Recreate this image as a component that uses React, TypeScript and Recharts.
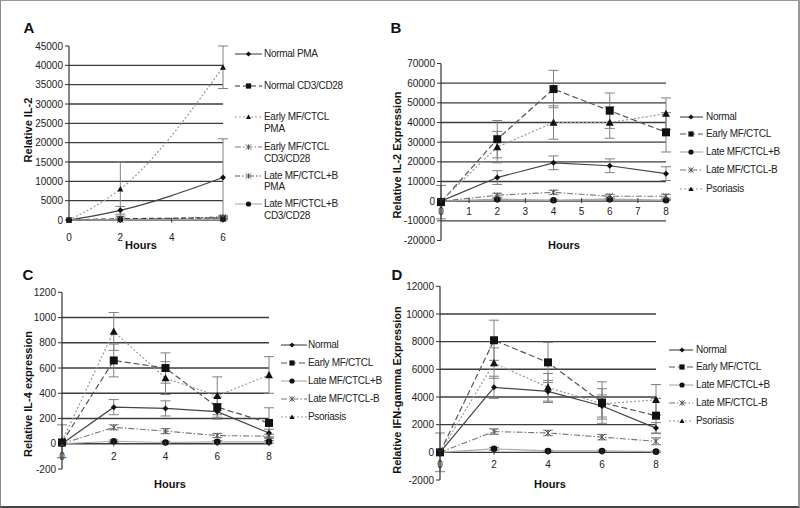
import React from "react";
import { ErrorBar, Line, LineChart, ReferenceLine, XAxis, YAxis } from "recharts";

const FONT = '"Liberation Sans", Arial, Helvetica, sans-serif';

// hours on the x axis
const HOURS_A = [0, 2, 6];
const HOURS = [0, 2, 4, 6, 8];

// A: Relative IL-2
const A_NORMAL_PMA = [0, 2500, 11000];
const A_NORMAL_PMA_ERR = [0, 1000, 10000];
const A_NORMAL_CD3 = [0, 300, 500];
const A_NORMAL_CD3_ERR = [0, 200, 300];
const A_EARLY_PMA = [0, 8000, 39500];
const A_EARLY_PMA_ERR = [0, 7000, 5500];
const A_EARLY_CD3 = [0, 150, 300];
const A_EARLY_CD3_ERR = [0, 100, 200];
const A_LATE_PMA = [0, 100, 800];
const A_LATE_PMA_ERR = [0, 100, 300];
const A_LATE_CD3 = [0, 50, 100];
const A_LATE_CD3_ERR = [0, 50, 100];

// B: Relative IL-2 expression
const B_NORMAL = [0, 12000, 19500, 18000, 14000];
const B_NORMAL_ERR = [0, 3500, 3500, 3500, 3500];
const B_EARLY = [-500, 31500, 57000, 46000, 35000];
const B_EARLY_ERR = [8500, 9500, 9500, 9000, 10000];
const B_LATE_PLUS = [0, 1000, 500, 1000, 500];
const B_LATE_PLUS_ERR = [0, 500, 300, 500, 300];
const B_LATE_MINUS = [0, 3000, 4500, 2500, 2500];
const B_LATE_MINUS_ERR = [0, 1000, 1000, 1000, 1000];
const B_PSORIASIS = [0, 27500, 40000, 40000, 44500];
const B_PSORIASIS_ERR = [0, 8000, 8500, 8000, 8000];

// C: Relative IL-4 expression
const C_NORMAL = [0, 290, 280, 255, 85];
const C_NORMAL_ERR = [0, 60, 60, 60, 30];
const C_EARLY = [10, 660, 600, 290, 165];
const C_EARLY_ERR = [0, 130, 120, 80, 120];
const C_LATE_PLUS = [0, 20, 10, 15, 15];
const C_LATE_PLUS_ERR = [0, 10, 10, 10, 10];
const C_LATE_MINUS = [0, 130, 100, 65, 60];
const C_LATE_MINUS_ERR = [0, 20, 20, 15, 15];
const C_PSORIASIS = [20, 890, 520, 380, 545];
const C_PSORIASIS_ERR = [130, 150, 130, 150, 145];

// D: Relative IFN-gamma expression
const D_NORMAL = [0, 4700, 4400, 3350, 1750];
const D_NORMAL_ERR = [0, 800, 800, 800, 400];
const D_EARLY = [0, 8100, 6500, 3600, 2650];
const D_EARLY_ERR = [1400, 1450, 1450, 1500, 1250];
const D_LATE_PLUS = [0, 250, 100, 100, 50];
const D_LATE_PLUS_ERR = [0, 100, 50, 50, 50];
const D_LATE_MINUS = [0, 1500, 1400, 1100, 800];
const D_LATE_MINUS_ERR = [0, 200, 200, 200, 250];
const D_PSORIASIS = [0, 6450, 4700, 3500, 3800];
const D_PSORIASIS_ERR = [0, 1100, 1000, 1100, 1100];

// axis ticks / grid values
const A_YTICKS = [0, 5000, 10000, 15000, 20000, 25000, 30000, 35000, 40000, 45000];
const A_GRID = [0, 5000, 10000, 15000, 20000, 25000, 30000, 35000, 40000];
const B_YTICKS = [-20000, -10000, 0, 10000, 20000, 30000, 40000, 50000, 60000, 70000];
const B_GRID = [-10000, 0, 10000, 20000, 30000, 40000, 50000, 60000];
const B_XTICKS = [0, 1, 2, 3, 4, 5, 6, 7, 8];
const C_YTICKS = [-200, 0, 200, 400, 600, 800, 1000, 1200];
const C_GRID = [0, 200, 400, 600, 800, 1000];
const D_YTICKS = [-2000, 0, 2000, 4000, 6000, 8000, 10000, 12000];
const D_GRID = [0, 2000, 4000, 6000, 8000, 10000];

type Shape = "diamond" | "square" | "circle" | "triangle" | "star";
type Style = { stroke: string; dash?: string; width: number; shape: Shape; size: number };

const ST_NORMAL: Style = { stroke: "#444", width: 1.2, shape: "diamond", size: 3 };
const ST_EARLY: Style = { stroke: "#555", dash: "6 3", width: 1.2, shape: "square", size: 4 };
const ST_LATE_PLUS: Style = { stroke: "#aaa", width: 1.2, shape: "circle", size: 3.3 };
const ST_LATE_MINUS: Style = { stroke: "#777", dash: "6 2 1.5 2", width: 1.1, shape: "star", size: 3 };
const ST_PSORIASIS: Style = { stroke: "#999", dash: "2 2", width: 1.2, shape: "triangle", size: 4 };

type Series = Style & { key: string; name: string[]; values: number[]; errors: number[] };

const A_SERIES: Series[] = [
  { key: "np", name: ["Normal PMA"], values: A_NORMAL_PMA, errors: A_NORMAL_PMA_ERR, ...ST_NORMAL },
  { key: "nc", name: ["Normal CD3/CD28"], values: A_NORMAL_CD3, errors: A_NORMAL_CD3_ERR, stroke: "#333", dash: "5 3", width: 1.3, shape: "square", size: 2.6 },
  { key: "ep", name: ["Early MF/CTCL", "PMA"], values: A_EARLY_PMA, errors: A_EARLY_PMA_ERR, ...ST_PSORIASIS, size: 3 },
  { key: "ec", name: ["Early MF/CTCL", "CD3/CD28"], values: A_EARLY_CD3, errors: A_EARLY_CD3_ERR, ...ST_LATE_MINUS },
  { key: "lp", name: ["Late MF/CTCL+B", "PMA"], values: A_LATE_PMA, errors: A_LATE_PMA_ERR, stroke: "#555", dash: "5 2 1.5 2 1.5 2", width: 1.1, shape: "star", size: 3 },
  { key: "lc", name: ["Late MF/CTCL+B", "CD3/CD28"], values: A_LATE_CD3, errors: A_LATE_CD3_ERR, ...ST_LATE_PLUS, size: 2.6 },
];

const B_SERIES: Series[] = [
  { key: "n", name: ["Normal"], values: B_NORMAL, errors: B_NORMAL_ERR, ...ST_NORMAL },
  { key: "e", name: ["Early MF/CTCL"], values: B_EARLY, errors: B_EARLY_ERR, ...ST_EARLY },
  { key: "lp", name: ["Late MF/CTCL+B"], values: B_LATE_PLUS, errors: B_LATE_PLUS_ERR, ...ST_LATE_PLUS },
  { key: "lm", name: ["Late MF/CTCL-B"], values: B_LATE_MINUS, errors: B_LATE_MINUS_ERR, ...ST_LATE_MINUS },
  { key: "p", name: ["Psoriasis"], values: B_PSORIASIS, errors: B_PSORIASIS_ERR, ...ST_PSORIASIS },
];

const C_SERIES: Series[] = [
  { key: "n", name: ["Normal"], values: C_NORMAL, errors: C_NORMAL_ERR, ...ST_NORMAL },
  { key: "e", name: ["Early MF/CTCL"], values: C_EARLY, errors: C_EARLY_ERR, ...ST_EARLY },
  { key: "lp", name: ["Late MF/CTCL+B"], values: C_LATE_PLUS, errors: C_LATE_PLUS_ERR, ...ST_LATE_PLUS },
  { key: "lm", name: ["Late MF/CTCL-B"], values: C_LATE_MINUS, errors: C_LATE_MINUS_ERR, ...ST_LATE_MINUS },
  { key: "p", name: ["Psoriasis"], values: C_PSORIASIS, errors: C_PSORIASIS_ERR, ...ST_PSORIASIS },
];

const D_SERIES: Series[] = [
  { key: "n", name: ["Normal"], values: D_NORMAL, errors: D_NORMAL_ERR, ...ST_NORMAL },
  { key: "e", name: ["Early MF/CTCL"], values: D_EARLY, errors: D_EARLY_ERR, ...ST_EARLY },
  { key: "lp", name: ["Late MF/CTCL+B"], values: D_LATE_PLUS, errors: D_LATE_PLUS_ERR, ...ST_LATE_PLUS },
  { key: "lm", name: ["Late MF/CTCL-B"], values: D_LATE_MINUS, errors: D_LATE_MINUS_ERR, ...ST_LATE_MINUS },
  { key: "p", name: ["Psoriasis"], values: D_PSORIASIS, errors: D_PSORIASIS_ERR, ...ST_PSORIASIS },
];

function buildRows(hours: number[], series: Series[]) {
  return hours.map((h, i) => {
    const row: Record<string, number> = { h };
    series.forEach((s) => {
      row[s.key] = s.values[i];
      row[s.key + "Err"] = s.errors[i];
    });
    return row;
  });
}

function Marker({ shape, cx, cy, size }: { shape: Shape; cx: number; cy: number; size: number }) {
  const s = size;
  switch (shape) {
    case "diamond":
      return <polygon points={`${cx},${cy - s} ${cx + s},${cy} ${cx},${cy + s} ${cx - s},${cy}`} fill="#111" />;
    case "square":
      return <rect x={cx - s} y={cy - s} width={s * 2} height={s * 2} fill="#111" />;
    case "circle":
      return <circle cx={cx} cy={cy} r={s} fill="#111" />;
    case "triangle":
      return <polygon points={`${cx},${cy - s} ${cx + s},${cy + s * 0.8} ${cx - s},${cy + s * 0.8}`} fill="#111" />;
    default:
      return (
        <g stroke="#555" strokeWidth={1}>
          <line x1={cx - s} y1={cy - s} x2={cx + s} y2={cy + s} />
          <line x1={cx - s} y1={cy + s} x2={cx + s} y2={cy - s} />
          <line x1={cx} y1={cy - s} x2={cx} y2={cy + s} />
        </g>
      );
  }
}

interface PanelProps {
  left: number;
  top: number;
  width: number;
  height: number;
  margin: { top: number; right: number; bottom: number; left: number };
  yAxisWidth: number;
  xAxisHeight: number;
  hours: number[];
  xDomain: [number, number];
  xTicks: number[];
  yDomain: [number, number];
  yTicks: number[];
  grid: number[];
  series: Series[];
  zeroOffset: number; // px between plot bottom and the y=0 line
  labelGap: number; // px from y=0 line to hour label centre
  curve: "linear" | "monotone";
}

function Panel(p: PanelProps) {
  const rows = buildRows(p.hours, p.series);
  const hourTick = (t: any) => {
    const zy = t.y - p.zeroOffset;
    return (
      <g key={`t-${t.index}`}>
        <line x1={t.x} x2={t.x} y1={zy - 2.5} y2={zy + 2.5} stroke="#333" />
        <text x={t.x} y={zy + p.labelGap + 3.5} textAnchor="middle" fontSize={10} fill="#222" fontFamily={FONT}>
          {t.payload.value}
        </text>
      </g>
    );
  };
  return (
    <div style={{ position: "absolute", left: p.left, top: p.top }}>
      <LineChart width={p.width} height={p.height} data={rows} margin={p.margin}>
        <XAxis
          dataKey="h"
          type="number"
          domain={p.xDomain}
          ticks={p.xTicks}
          interval={0}
          axisLine={false}
          tickLine={false}
          tickSize={0}
          tickMargin={0}
          height={p.xAxisHeight}
          tick={hourTick}
        />
        <YAxis
          type="number"
          domain={p.yDomain}
          ticks={p.yTicks}
          interval={0}
          width={p.yAxisWidth}
          axisLine={{ stroke: "#333", strokeWidth: 1.2 }}
          tickLine={{ stroke: "#333" }}
          tickSize={4}
          tickMargin={2}
          tick={{ fontSize: 10, fill: "#222", fontFamily: FONT }}
        />
        {p.grid.map((v) => (
          <ReferenceLine key={v} y={v} stroke="#3c3c3c" strokeWidth={1.4} />
        ))}
        {p.series.map((s) => (
          <Line
            key={s.key}
            dataKey={s.key}
            type={p.curve}
            stroke={s.stroke}
            strokeWidth={s.width}
            strokeDasharray={s.dash}
            isAnimationActive={false}
            activeDot={false}
            dot={(d: any) => (
              <Marker key={`${s.key}-${d.index}`} shape={s.shape} cx={d.cx} cy={d.cy} size={s.size} />
            )}
          >
            <ErrorBar dataKey={s.key + "Err"} direction="y" width={5} stroke="#808080" strokeWidth={1} />
          </Line>
        ))}
      </LineChart>
    </div>
  );
}

function Legend({ series, ys, x1, x2, mx, tx }: { series: Series[]; ys: number[]; x1: number; x2: number; mx: number; tx: number }) {
  return (
    <>
      {series.map((s, i) => (
        <React.Fragment key={s.key}>
          <svg style={{ position: "absolute", left: x1, top: ys[i] - 5 }} width={x2 - x1} height={10}>
            <line x1={0} x2={x2 - x1} y1={5} y2={5} stroke={s.stroke} strokeWidth={1.1} strokeDasharray={s.dash} />
            <Marker shape={s.shape} cx={mx - x1} cy={5} size={Math.min(s.size, 2.6)} />
          </svg>
          <div
            style={{
              position: "absolute",
              left: tx,
              top: ys[i] - 6,
              fontSize: 10,
              lineHeight: "11.5px",
              color: "#222",
              letterSpacing: -0.3,
              whiteSpace: "nowrap",
            }}
          >
            {s.name.map((l) => (
              <div key={l}>{l}</div>
            ))}
          </div>
        </React.Fragment>
      ))}
    </>
  );
}

function Text({ x, y, children, size = 11, rotate = false }: { x: number; y: number; children: React.ReactNode; size?: number; rotate?: boolean }) {
  return (
    <div
      style={{
        position: "absolute",
        left: x,
        top: y,
        transform: `translate(-50%, -50%)${rotate ? " rotate(-90deg)" : ""}`,
        fontSize: size,
        fontWeight: "bold",
        color: "#111",
        whiteSpace: "nowrap",
        lineHeight: 1,
      }}
    >
      {children}
    </div>
  );
}

export default function App() {
  return (
    <div
      style={{
        position: "absolute",
        left: 0,
        top: 0,
        width: 800,
        height: 508,
        boxSizing: "border-box",
        borderLeft: "1px solid #888",
        borderTop: "1px solid #999",
        borderRight: "2px solid #999",
        borderBottom: "2px solid #444",
        background: "#fff",
        fontFamily: FONT,
        overflow: "hidden",
      }}
    >
      <div style={{ position: "absolute", left: -1, top: -1 }}>
        <Panel
          left={0}
          top={0}
          width={240}
          height={254}
          margin={{ top: 46, right: 17, bottom: 4, left: 9 }}
          yAxisWidth={60}
          xAxisHeight={30}
          hours={HOURS_A}
          xDomain={[0, 6]}
          xTicks={[0, 2, 4, 6]}
          yDomain={[0, 45000]}
          yTicks={A_YTICKS}
          grid={A_GRID}
          series={A_SERIES}
          zeroOffset={0}
          labelGap={17}
          curve="monotone"
        />
        <Panel
          left={380}
          top={0}
          width={300}
          height={254}
          margin={{ top: 63.5, right: 14, bottom: 3.5, left: 5 }}
          yAxisWidth={56}
          xAxisHeight={10}
          hours={HOURS}
          xDomain={[0, 8]}
          xTicks={B_XTICKS}
          yDomain={[-20000, 70000]}
          yTicks={B_YTICKS}
          grid={B_GRID}
          series={B_SERIES}
          zeroOffset={40}
          labelGap={11}
          curve="linear"
        />
        <Panel
          left={0}
          top={254}
          width={280}
          height={254}
          margin={{ top: 38.3, right: 11, bottom: 4, left: 4 }}
          yAxisWidth={58}
          xAxisHeight={35}
          hours={HOURS}
          xDomain={[0, 8]}
          xTicks={HOURS}
          yDomain={[-200, 1200]}
          yTicks={C_YTICKS}
          grid={C_GRID}
          series={C_SERIES}
          zeroOffset={25.3}
          labelGap={13}
          curve="linear"
        />
        <Panel
          left={380}
          top={254}
          width={290}
          height={254}
          margin={{ top: 32.3, right: 14, bottom: 4, left: 4 }}
          yAxisWidth={56}
          xAxisHeight={24}
          hours={HOURS}
          xDomain={[0, 8]}
          xTicks={HOURS}
          yDomain={[-2000, 12000]}
          yTicks={D_YTICKS}
          grid={D_GRID}
          series={D_SERIES}
          zeroOffset={27.7}
          labelGap={12.4}
          curve="linear"
        />

        <Legend series={A_SERIES} ys={[53.5, 85.5, 117, 147, 175.5, 204]} x1={235} x2={262} mx={248.5} tx={264} />
        <Legend series={B_SERIES} ys={[116.7, 134, 152, 170, 188.7]} x1={680} x2={703} mx={691} tx={706} />
        <Legend series={C_SERIES} ys={[344.7, 362.7, 380.7, 399.3, 417.3]} x1={281} x2={307} mx={292} tx={308} />
        <Legend series={D_SERIES} ys={[350, 367.3, 385, 402.7, 420.7]} x1={669} x2={693} mx={682} tx={696} />

        <Text x={29} y={27} size={15}>A</Text>
        <Text x={396} y={27} size={15}>B</Text>
        <Text x={28} y={274} size={15}>C</Text>
        <Text x={397} y={274} size={15}>D</Text>

        <Text x={28} y={130} rotate>Relative IL-2</Text>
        <Text x={397} y={155} rotate>Relative IL-2 Expression</Text>
        <Text x={28} y={394} rotate>Relative IL-4 expression</Text>
        <Text x={397} y={390} rotate>Relative IFN-gamma Expression</Text>

        <Text x={141} y={245}>Hours</Text>
        <Text x={564} y={245}>Hours</Text>
        <Text x={170} y={484}>Hours</Text>
        <Text x={550} y={484}>Hours</Text>
      </div>
    </div>
  );
}
